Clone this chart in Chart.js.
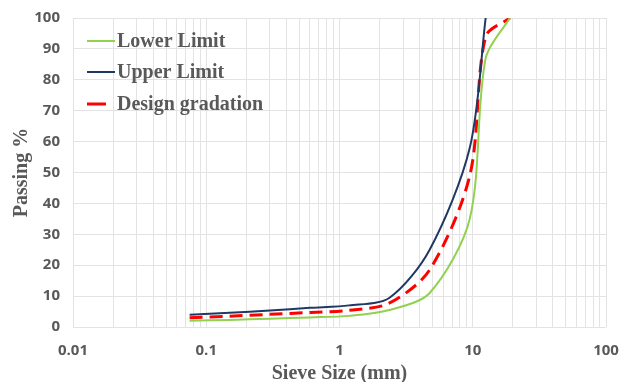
<!DOCTYPE html>
<html>
<head>
<meta charset="utf-8">
<script src="https://cdn.jsdelivr.net/npm/chart.js@4"></script>
<style>
  html, body { margin: 0; padding: 0; background: #ffffff; }
  #wrap { width: 620px; height: 382px; position: relative; }
</style>
</head>
<body>
<div id="wrap"><canvas id="gradationChart"></canvas></div>
<script>
// sieve sizes (mm) and % passing
const sieveSizes = [0.075, 0.15, 0.3, 0.6, 1.18, 2.36, 4.75, 9.5, 12.5, 19];
const upperLimit = [4, 4.6, 5.3, 6.2, 7.0, 9.4, 25, 58, 100];
const designGradation = [3, 3.5, 4.1, 4.7, 5.4, 7.7, 18.5, 49, 94, 100];
const lowerLimit = [2, 2.3, 2.7, 3.1, 3.6, 5.5, 11, 35, 87, 100];

const decades = [0.01, 0.1, 1, 10];
const xMax = 100;
const yTicks = [0, 10, 20, 30, 40, 50, 60, 70, 80, 90, 100];

const textGray = "#595959";
const gridGray = "#e3e3e3";

function toPoints(values) {
  return values.map((v, i) => ({ x: sieveSizes[i], y: v }));
}

function isDecade(v) {
  const l = Math.log10(v);
  return Math.abs(l - Math.round(l)) < 1e-9;
}

const legendInsidePlugin = {
  id: "legendInside",
  afterDraw(chart) {
    const { ctx, chartArea } = chart;
    const x0 = chartArea.left + 14;
    const rows = [23, 54, 86];
    ctx.save();
    ctx.font = "bold 20px 'Liberation Serif', 'Times New Roman', serif";
    ctx.textBaseline = "middle";
    ctx.textAlign = "left";
    chart.data.datasets.forEach((ds, i) => {
      const y = chartArea.top + rows[i];
      ctx.strokeStyle = ds.borderColor;
      ctx.lineWidth = ds.borderWidth;
      ctx.setLineDash([]);
      ctx.beginPath();
      ctx.moveTo(x0, y);
      ctx.lineTo(x0 + (ds.borderDash ? 19 : 28), y);
      ctx.stroke();
      ctx.fillStyle = textGray;
      ctx.fillText(ds.label, x0 + 30, y + 1);
    });
    ctx.restore();
  }
};

const ctx = document.getElementById("gradationChart").getContext("2d");

const gradationChart = new Chart(ctx, {
  type: "line",
  plugins: [legendInsidePlugin],
  data: {
    datasets: [
      {
        label: "Lower Limit",
        data: toPoints(lowerLimit),
        borderColor: "#92d050",
        borderWidth: 2,
        pointRadius: 0,
        tension: 0.3,
        fill: false
      },
      {
        label: "Upper Limit",
        data: toPoints(upperLimit),
        borderColor: "#203864",
        borderWidth: 2,
        pointRadius: 0,
        tension: 0.3,
        fill: false
      },
      {
        label: "Design gradation",
        data: toPoints(designGradation),
        borderColor: "#ff0000",
        borderWidth: 3,
        borderDash: [13, 7],
        pointRadius: 0,
        tension: 0.3,
        fill: false
      }
    ]
  },
  options: {
    responsive: true,
    maintainAspectRatio: false,
    animation: false,
    layout: {
      padding: { top: 18, right: 0, bottom: 0, left: 0 }
    },
    plugins: {
      legend: { display: false },
      tooltip: { enabled: false }
    },
    scales: {
      x: {
        type: "logarithmic",
        min: decades[0],
        max: xMax,
        afterBuildTicks(scale) {
          const ticks = [];
          decades.forEach(d => {
            for (let k = 1; k <= 9; k++) ticks.push({ value: Number((k * d).toPrecision(6)) });
          });
          ticks.push({ value: xMax });
          scale.ticks = ticks;
        },
        afterFit(scale) {
          scale.height = 55;
          scale.paddingLeft = 0;
          scale.paddingRight = 14;
        },
        ticks: {
          autoSkip: false,
          maxRotation: 0,
          padding: 15,
          color: textGray,
          font: { family: "'Open Sans', sans-serif", size: 15, weight: "bold" },
          callback: function (value) {
            return isDecade(value) ? String(Number(value.toPrecision(6))) : "";
          }
        },
        grid: {
          color: gridGray,
          lineWidth: 1,
          drawTicks: false
        },
        border: { display: false },
        title: {
          display: true,
          text: "Sieve Size (mm)",
          color: textGray,
          padding: { top: 0, bottom: -2 },
          font: { family: "'Liberation Serif', 'Times New Roman', serif", size: 20, weight: "bold", lineHeight: 1 }
        }
      },
      y: {
        min: 0,
        max: 100,
        afterBuildTicks(scale) {
          scale.ticks = yTicks.map(v => ({ value: v }));
        },
        afterFit(scale) {
          scale.width = 73;
          scale.paddingTop = 0;
          scale.paddingBottom = 0;
        },
        ticks: {
          padding: 13,
          color: textGray,
          font: { family: "'Open Sans', sans-serif", size: 15, weight: "bold" }
        },
        grid: {
          color: gridGray,
          lineWidth: 1,
          drawTicks: false
        },
        border: { display: false },
        title: {
          display: true,
          text: "Passing %",
          color: textGray,
          padding: { top: 12, bottom: 0 },
          font: { family: "'Liberation Serif', 'Times New Roman', serif", size: 20, weight: "bold", lineHeight: 1 }
        }
      }
    }
  }
});
</script>
</body>
</html>
